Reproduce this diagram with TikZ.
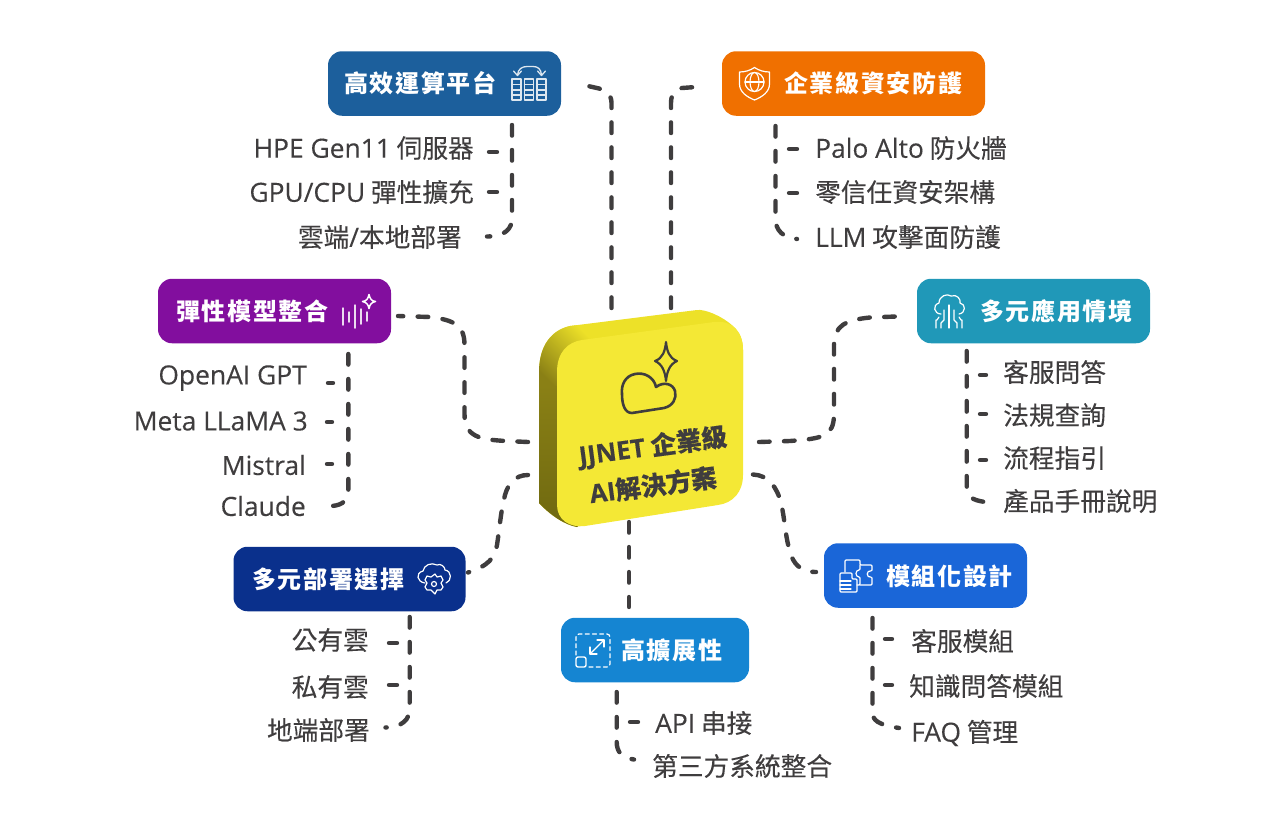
\documentclass[tikz,border=0pt]{standalone}
\usepackage{fontspec}
\setmainfont[FakeBold=0.2]{Noto Sans CJK TC}
\newfontfamily\latf[FakeBold=0.2]{Open Sans}
\newfontfamily\boxf[LetterSpace=7]{Noto Sans CJK TC}
\newcommand{\lat}[1]{{\fontsize{26.4}{28}\latf #1}}
\definecolor{ink}{HTML}{3F3D3E}
\definecolor{cA}{HTML}{1C5F9C}
\definecolor{cB}{HTML}{F07000}
\definecolor{cC}{HTML}{820E9E}
\definecolor{cD}{HTML}{2098B8}
\definecolor{cE}{HTML}{0A308C}
\definecolor{cF}{HTML}{1585D2}
\definecolor{cG}{HTML}{1A66D8}
\definecolor{face}{HTML}{F4E835}
\definecolor{band}{HTML}{EDE128}
\definecolor{oliveT}{HTML}{8A8015}
\definecolor{oliveB}{HTML}{6E6810}
\tikzset{
  x=1pt,y=-1pt,
  boxn/.style={fill=#1,rounded corners=14pt,minimum height=64.5pt,inner sep=0pt},
  blab/.style={text=white,font=\fontsize{24}{26}\boxf\bfseries,inner sep=0pt},
  item/.style={text=ink,font=\fontsize{25.7}{28}\selectfont,inner sep=0pt},
  conn/.style={draw=ink,line width=4.4pt,line cap=round,dash pattern=on 10.6pt off 14.4pt},
  stub/.style={draw=ink,line width=4.4pt,line cap=round},
  ico/.style={draw=white,line width=1.5pt,line join=round,line cap=round},
  icof/.style={draw=white!85!cA,line width=1.5pt,line join=round,line cap=round},
}
\begin{document}
\begin{tikzpicture}
\useasboundingbox (0,0) rectangle (1284,830);
% ---- boxes
\node[boxn=cA,minimum width=233pt] (bA) at (444.5,83.5) {};
\node[boxn=cB,minimum width=263pt] (bB) at (853.5,83.5) {};
\node[boxn=cC,minimum width=233pt] (bC) at (274.5,311) {};
\node[boxn=cD,minimum width=233pt] (bD) at (1033.5,311) {};
\node[boxn=cE,minimum width=232pt] (bE) at (349.5,579) {};
\node[boxn=cF,minimum width=188pt] (bF) at (655,650) {};
\node[boxn=cG,minimum width=203pt] (bG) at (925.5,575.5) {};

% ---- connector ends
\coordinate (cT1s) at (611.5,308);
\coordinate (cT1e) at (588,86);
\coordinate (cT2s) at (671,308);
\coordinate (cT2e) at (696,87);
\coordinate (cLs) at (528,442);
\coordinate (cLe) at (398,316);
\coordinate (cRs) at (759,442);
\coordinate (cRe) at (909,316);
\coordinate (cEs) at (528,475);
\coordinate (cEe) at (468,572.5);
\coordinate (cGs) at (753,474.5);
\coordinate (cGe) at (816,572);
\coordinate (cFs) at (629,522);
\coordinate (cFe) at (629,607);

% ---- main connectors
\path[conn] (cT1s) -- (611.5,103) .. controls (611.5,94) and (605,90) .. (599,88.5) -- (cT1e);
\path[conn] (cT2s) -- (671,103) .. controls (671,93) and (676,89) .. (682,88) -- (cT2e);
\path[conn] (cLs) -- (506,441) .. controls (480,439.5) and (464.5,437) .. (464.5,414) -- (464.5,345) .. controls (464.5,326) and (455,320) .. (430,317) -- (cLe);
\path[conn] (cRs) -- (790,441) .. controls (822,438.5) and (834,437) .. (834,414) -- (834,345) .. controls (834,326) and (845,320) .. (870,317.5) -- (cRe);
\path[conn] (cEs) .. controls (515,475) and (508,484) .. (505,495) .. controls (501,510) and (500,525) .. (497,545) .. controls (495,558) and (488,566) .. (cEe);
\path[conn] (cGs) .. controls (768,475) and (777,487) .. (781,503) .. controls (785,520) and (785,535) .. (790,552) .. controls (793,563) and (800,572) .. (cGe);
\path[conn] (cFs) -- (cFe);

% ---- trees
\path[conn] (512,125) -- (512,218) .. controls (512,228) and (506,236.5) .. (487,236.5);
\path[stub] (489,152) -- (497,152);
\path[stub] (489,192) -- (497,192);

\path[conn] (775.5,126) -- (775.5,219) .. controls (775.5,230) and (783,238) .. (797,239);
\path[stub] (789,149) -- (797,149);
\path[stub] (789,193) -- (797,193);

\path[conn] (348.3,354) -- (348.3,490) .. controls (348.3,500) and (343,505) .. (332,506);
\path[stub] (328,383) -- (333,383);
\path[stub] (327,422) -- (332,422);
\path[stub] (327,464) -- (332,464);

\path[conn] (966.7,351) -- (966.7,486) .. controls (966.7,497) and (972,500) .. (985,502);
\path[stub] (980,375) -- (986,375);
\path[stub] (980,414) -- (986,414);
\path[stub] (980,460) -- (986,460);

\path[conn] (409.7,617) -- (409.7,708) .. controls (409.7,720) and (402,727) .. (385.5,727.5);
\path[stub] (389,643) -- (397,643);
\path[stub] (389,685) -- (397,685);

\path[conn] (616.7,692) -- (616.7,742) .. controls (616.7,752) and (622,758) .. (634,759.5);
\path[stub] (630,722) -- (638,722);

\path[conn] (872.5,618) -- (872.5,712) .. controls (872.5,720) and (877,724.5) .. (899,728);
\path[stub] (885,639) -- (892,639);
\path[stub] (885,685) -- (892,685);

% ---- labels
\node[blab,anchor=west] (tA) at (344,83.5) {高效運算平台};
\node[blab,anchor=west] (tB) at (784,83.5) {企業級資安防護};
\node[blab,anchor=west] (tC) at (176,311) {彈性模型整合};
\node[blab,anchor=west] (tD) at (980,311) {多元應用情境};
\node[blab,anchor=west] (tE) at (252,579) {多元部署選擇};
\node[blab,anchor=west] (tF) at (621,650) {高擴展性};
\node[blab,anchor=west] (tG) at (886,576) {模組化設計};

% ---- items
\node[item,anchor=east] (a1) at (474,148) {\lat{HPE Gen11} 伺服器};
\node[item,anchor=east] (a2) at (474,192) {\lat{GPU/CPU} 彈性擴充};
\node[item,anchor=east] (a3) at (462,237) {雲端\lat{/}本地部署};
\node[item,anchor=west] (b1) at (815,148) {\lat{Palo Alto} 防火牆};
\node[item,anchor=west] (b2) at (815,192) {零信任資安架構};
\node[item,anchor=west] (b3) at (815,237) {\lat{LLM} 攻擊面防護};
\node[item,anchor=east] (c1) at (307,378) {\lat{OpenAI GPT}};
\node[item,anchor=east] (c2) at (308,421) {\lat{Meta LLaMA 3}};
\node[item,anchor=east] (c3) at (306,465) {\lat{Mistral}};
\node[item,anchor=east] (c4) at (306,506) {\lat{Claude}};
\node[item,anchor=west] (d1) at (1003,372) {客服問答};
\node[item,anchor=west] (d2) at (1003,415) {法規查詢};
\node[item,anchor=west] (d3) at (1003,458) {流程指引};
\node[item,anchor=west] (d4) at (1003,501) {產品手冊說明};
\node[item,anchor=east] (e1) at (369,640) {公有雲};
\node[item,anchor=east] (e2) at (369,687) {私有雲};
\node[item,anchor=east] (e3) at (370,730) {地端部署};
\node[item,anchor=west] (f1) at (655,723) {\lat{API} 串接};
\node[item,anchor=west] (f2) at (652,766) {第三方系統整合};
\node[item,anchor=west] (g1) at (911,641) {客服模組};
\node[item,anchor=west] (g2) at (909,686) {知識問答模組};
\node[item,anchor=west] (g3) at (911,733) {\lat{FAQ} 管理};

% ---- icon A: grid + arrow
\foreach \cx in {512,524.5,537}{
  \draw[icof,line width=1.4pt] (\cx,79) rectangle ++(9,21);
  \draw[icof,line width=1.2pt] (\cx,84.5) -- ++(9,0) (\cx,90) -- ++(9,0) (\cx,95) -- ++(9,0);
}
\draw[icof,line width=1.3pt] (517.5,75) .. controls (518,69) and (522,66.5) .. (527,66.5) -- (533,66.5) .. controls (538,66.5) and (541,69) .. (541.5,75);
\draw[icof,line width=1.3pt] (513.5,71) -- (517.5,75.5) -- (521.5,71);
\draw[icof,line width=1.3pt] (537.5,71) -- (541.5,75.5) -- (545.5,71);

% ---- icon B: shield + globe
\draw[ico,line width=1.2pt] (739.5,72) .. controls (745,72) and (750,70.5) .. (754.5,67.5) .. controls (759,70.5) and (764,72) .. (769.5,72) -- (769.5,84) .. controls (769.5,92) and (762,97) .. (754.5,100) .. controls (747,97) and (739.5,92) .. (739.5,84) -- cycle;
\draw[ico,line width=1.2pt] (754.5,82) circle (9.5pt);
\draw[ico,line width=1.1pt] (754.5,82) ellipse (4.5pt and 9.5pt);
\draw[ico,line width=1.1pt] (745,82) -- (764,82);

% ---- icon C: wave + sparkle
\draw[ico,draw=white!85!cC] (343,308) -- (343,325);
\draw[ico,draw=white!85!cC] (349,312) -- (349,322);
\draw[ico,draw=white!85!cC] (355,305) -- (355,328);
\draw[ico,draw=white!85!cC] (361,309) -- (361,324);
\draw[ico,draw=white!85!cC] (367,312) -- (367,321);
\draw[ico] (369,294.5) .. controls (370,299) and (371.5,301) .. (375.5,301.5) .. controls (371.5,302.5) and (370,304) .. (369,308.5) .. controls (368,304) and (366.5,302.5) .. (362.5,301.5) .. controls (366.5,301) and (368,299) .. (369,294.5) -- cycle;

% ---- icon D: cloud circuit
\draw[ico,line width=1.2pt] (941,314) .. controls (934,314) and (932,305) .. (939,303) .. controls (939,296) and (947,293) .. (951,296) .. controls (957,294) and (961,299) .. (960,303) .. controls (966,304) and (966,313) .. (959,314);
\draw[ico,line width=1.2pt] (949,305) -- (949,328);
\draw[ico,line width=1.2pt] (944,310) -- (944,320) -- (941,323) -- (941,328);
\draw[ico,line width=1.2pt] (954,310) -- (954,320) -- (957,323) -- (957,328);
\draw[ico,line width=1.2pt] (939,317) -- (937,320) -- (936,320) -- (936,328);
\draw[ico,line width=1.2pt] (959,317) -- (961,320) -- (962,320) -- (962,328);

% ---- icon E: cloud gear
\draw[ico,line width=1.2pt] (425,583) .. controls (417,582) and (415,573) .. (423,571) .. controls (424,565) and (431,562) .. (437,565) .. controls (441,563) and (445,567) .. (445,570) .. controls (452,571) and (452,581) .. (446,583);
\draw[ico,line width=1.2pt,fill=cE] (435,574) -- (437,577) -- (441,576) -- (443,580) -- (441,583) -- (443,587) -- (441,590) -- (437,590) -- (435,594) -- (431,590) -- (427,590) -- (425,587) -- (427,583) -- (425,580) -- (427,576) -- (431,577) -- cycle;
\draw[ico,line width=1.2pt] (434,584) circle (2.5pt);

% ---- icon F: dashed square + arrow
\draw[ico,line width=1.2pt,dash pattern=on 4pt off 3.2pt,rounded corners=3pt] (576,655) -- (576,634) -- (610,634) -- (610,667) -- (588,667);
\draw[ico,line width=1.4pt,rounded corners=2pt] (576,657) rectangle (586,667);
\draw[ico,line width=1.2pt] (590,654) -- (604,640);
\draw[ico,line width=1.2pt] (590,647) -- (590,654) -- (597,654);
\draw[ico,line width=1.2pt] (597,640) -- (604,640) -- (604,647);

% ---- icon G: puzzle
\draw[ico,line width=1.2pt,rounded corners=1pt] (845,572) -- (845,560) -- (860,560) -- (860,565) -- (872,565) -- (872,571) .. controls (866,570) and (866,578) .. (872,577) -- (872,585) -- (860,585);
\draw[ico,line width=1.2pt,rounded corners=1pt] (860,565) -- (860,570) .. controls (855,570) and (855,577) .. (860,577) -- (860,585) -- (857,585);
\draw[ico,line width=1.2pt,rounded corners=1pt] (840,592) -- (840,573) -- (852,573) -- (852,579) -- (857,579) -- (857,592) -- cycle;
\draw[ico,line width=1.1pt] (840,581) -- (851,581) (840,585) -- (851,585) (840,589) -- (851,589);

% ---- centre block
\begin{scope}
\clip (539,372) .. controls (539,345) and (552,330) .. (570,326) -- (697,310) .. controls (705,309) and (722,316) .. (733,326) .. controls (740,333) and (743,340) .. (743,350) -- (743,400) -- (577,527) .. controls (565,525) and (550,515) .. (539,503) -- cycle;
\fill[band] (530,300) rectangle (750,530);
\shade[top color=oliveT,bottom color=oliveB] (535,385) rectangle (600,530);
\shade[bottom color=oliveT,top color=band,shading angle=-45] (535,325) rectangle (595,385);
\end{scope}
\path[fill=face] (557,372) .. controls (557,352) and (568,342) .. (582,340) -- (714,322) .. controls (733,320) and (743,332) .. (743,350) -- (743,475) .. controls (743,492) and (733,503) .. (718,505) -- (585,526) .. controls (570,528) and (557,520) .. (557,505) -- cycle;
\node[rotate=7.6,text=ink,inner sep=0pt,font=\fontsize{25.5}{28}\selectfont\bfseries] (m1) at (653,447) {{\latf\bfseries JJNET} 企業級};
\node[rotate=7.6,text=ink,inner sep=0pt,font=\fontsize{25.5}{28}\selectfont\bfseries] (m2) at (653,485) {{\latf\bfseries AI}解決方案};
\draw[ink,line width=2.6pt,line join=round] (632,413) -- (664,408) .. controls (673,406) and (677,398) .. (675,391) .. controls (673,384) and (664,381) .. (656,387) .. controls (654,377) and (644,372) .. (635,374) .. controls (625,376) and (621,385) .. (622,394) .. controls (622,405) and (625,413) .. (632,413) -- cycle;
\draw[ink,line width=2.2pt,line join=round] (666,342) .. controls (667,351) and (669,358) .. (677,361) .. controls (670,364) and (667,371) .. (666,381) .. controls (665,371) and (662,364) .. (655,361) .. controls (663,358) and (665,351) .. (666,342) -- cycle;
\end{tikzpicture}
\end{document}
